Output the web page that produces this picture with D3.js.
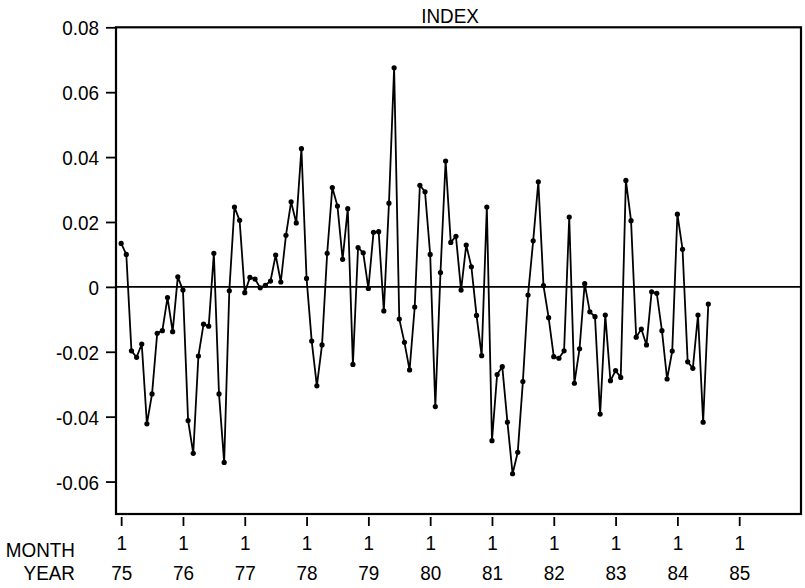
<!DOCTYPE html>
<html>
<head>
<meta charset="utf-8">
<script src="https://cdn.jsdelivr.net/npm/d3@7"></script>
<style>
  html, body { margin: 0; padding: 0; background: #fff; }
  svg { display: block; }
  text { font-family: "Liberation Sans", Arial, Helvetica, sans-serif; font-size: 21px; fill: #000; }
</style>
</head>
<body>
<svg id="chart" width="805" height="588"></svg>
<script>
// Monthly index series, Jan 1975 onward (one value per month)
const firstYear = 75;
const indexValues = [
   0.0134,  0.0100, -0.0197, -0.0217, -0.0176, -0.0422, -0.0330, -0.0143, -0.0135, -0.0033, -0.0138,  0.0031,
  -0.0010, -0.0412, -0.0513, -0.0213, -0.0115, -0.0121,  0.0103, -0.0330, -0.0541, -0.0012,  0.0246,  0.0205,
  -0.0018,  0.0029,  0.0024, -0.0003,  0.0005,  0.0018,  0.0098,  0.0015,  0.0159,  0.0262,  0.0197,  0.0426,
   0.0026, -0.0167, -0.0305, -0.0179,  0.0103,  0.0306,  0.0249,  0.0085,  0.0241, -0.0239,  0.0121,  0.0105,
  -0.0005,  0.0168,  0.0170, -0.0074,  0.0258,  0.0675, -0.0099, -0.0171, -0.0256, -0.0062,  0.0313,  0.0293,
   0.0100, -0.0369,  0.0044,  0.0388,  0.0137,  0.0156, -0.0010,  0.0129,  0.0062, -0.0088, -0.0212,  0.0246,
  -0.0474, -0.0270, -0.0246, -0.0417, -0.0576, -0.0510, -0.0292, -0.0025,  0.0142,  0.0324,  0.0004, -0.0095,
  -0.0215, -0.0220, -0.0197,  0.0215, -0.0297, -0.0191,  0.0010, -0.0077, -0.0092, -0.0392, -0.0087, -0.0289,
  -0.0258, -0.0279,  0.0328,  0.0204, -0.0155, -0.0130, -0.0179, -0.0015, -0.0020, -0.0135, -0.0284, -0.0198,
   0.0224,  0.0116, -0.0231, -0.0251, -0.0087, -0.0417, -0.0053
];

// Axis tick labels
const yTickValues = [-0.06, -0.04, -0.02, 0, 0.02, 0.04, 0.06, 0.08];
const yTickLabels = ["-0.06", "-0.04", "-0.02", "0", "0.02", "0.04", "0.06", "0.08"];
const monthTickLabels = ["1", "1", "1", "1", "1", "1", "1", "1", "1", "1", "1"];
const yearTickLabels = ["75", "76", "77", "78", "79", "80", "81", "82", "83", "84", "85"];

const svg = d3.select("#chart");
const plot = { left: 116, right: 801, top: 27.3, bottom: 514 };

// x: months elapsed since January of the first year
const x = d3.scaleLinear().domain([-1, 132]).range([plot.left, plot.right]);
const y = d3.scaleLinear().domain([-0.07, 0.08]).range([plot.bottom, plot.top]);

const points = indexValues.map((v, i) => ({ m: i, v }));
const narrow = "scale(0.9,1)";

// Title
svg.append("text")
  .attr("transform", `translate(450,22.5) ${narrow}`)
  .attr("text-anchor", "middle")
  .text("INDEX");

// Y axis: ticks outside the left edge of the frame
const yAxis = d3.axisLeft(y).tickValues(yTickValues).tickSize(10).tickFormat("");
const gy = svg.append("g").attr("transform", `translate(${plot.left},0)`).call(yAxis);
gy.select(".domain").remove();
gy.selectAll(".tick line").attr("stroke", "#000").attr("stroke-width", 1.8);
gy.selectAll(".tick").append("text")
  .attr("transform", `translate(-17,7.5) ${narrow}`)
  .attr("text-anchor", "end")
  .text((d, i) => yTickLabels[i]);

// X axis: short ticks below the frame at each January
const janMonths = yearTickLabels.map((_, i) => i * 12);
const xAxis = d3.axisBottom(x).tickValues(janMonths).tickSize(9).tickFormat("");
const gx = svg.append("g").attr("transform", "translate(0,517)").call(xAxis);
gx.select(".domain").remove();
gx.selectAll(".tick line").attr("stroke", "#000").attr("stroke-width", 1.8);
gx.selectAll(".tick").append("text")
  .attr("transform", `translate(0,33) ${narrow}`)
  .attr("text-anchor", "middle")
  .text((d, i) => monthTickLabels[i]);
gx.selectAll(".tick").append("text")
  .attr("transform", `translate(0,63) ${narrow}`)
  .attr("text-anchor", "middle")
  .text((d, i) => yearTickLabels[i]);

// Row captions
svg.append("text").attr("transform", `translate(75,557) ${narrow}`).attr("text-anchor", "end").text("MONTH");
svg.append("text").attr("transform", `translate(75,580) ${narrow}`).attr("text-anchor", "end").text("YEAR");

// Zero reference line
svg.append("line")
  .attr("x1", plot.left).attr("x2", plot.right)
  .attr("y1", y(0)).attr("y2", y(0))
  .attr("stroke", "#000").attr("stroke-width", 1.8);

// Series line and markers
const line = d3.line().x(d => x(d.m)).y(d => y(d.v));
svg.append("path")
  .datum(points)
  .attr("d", line)
  .attr("fill", "none")
  .attr("stroke", "#000")
  .attr("stroke-width", 1.8)
  .attr("stroke-linejoin", "miter");

svg.append("g").selectAll("circle")
  .data(points)
  .join("circle")
  .attr("cx", d => x(d.m))
  .attr("cy", d => y(d.v))
  .attr("r", 2.6)
  .attr("fill", "#000");

// Frame
svg.append("rect")
  .attr("x", plot.left).attr("y", plot.top)
  .attr("width", plot.right - plot.left).attr("height", plot.bottom - plot.top)
  .attr("fill", "none").attr("stroke", "#000").attr("stroke-width", 2.2);
</script>
</body>
</html>
